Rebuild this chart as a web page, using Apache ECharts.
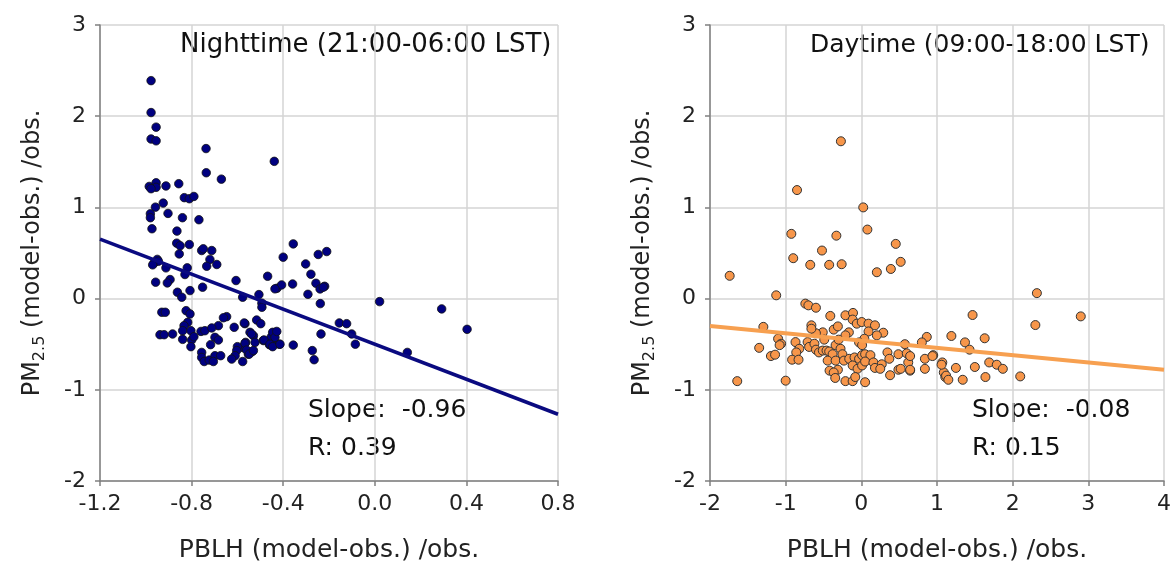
<!DOCTYPE html>
<html>
<head>
<meta charset="utf-8">
<script src="https://cdn.jsdelivr.net/npm/echarts@6/dist/echarts.min.js"></script>
<style>
html,body{margin:0;padding:0;background:#fff;}
#chart{width:1174px;height:569px;}
</style>
</head>
<body>
<div id="chart"></div>
<script>
// 夜间 / 日间 数据 (PBLH偏差, PM2.5偏差)
var nightPts = [
  [-0.977,2.39],[-0.977,2.04],[-0.955,1.88],[-0.977,1.75],[-0.955,1.73],[-0.737,1.645],[-0.439,1.505],
  [-0.736,1.38],[-0.67,1.31],[-0.985,1.23],[-0.955,1.27],[-0.955,1.22],[-0.977,1.205],[-0.912,1.235],
  [-0.856,1.26],[-0.832,1.107],[-0.81,1.095],[-0.79,1.12],[-0.924,1.047],[-0.958,1.003],[-0.98,0.93],
  [-0.98,0.887],[-0.903,0.934],[-0.84,0.887],[-0.768,0.865],[-0.973,0.766],[-0.864,0.74],[-0.865,0.608],
  [-0.85,0.58],[-0.81,0.593],[-0.756,0.527],[-0.749,0.546],[-0.712,0.527],[-0.854,0.49],[-0.356,0.6],
  [-0.4,0.454],[-0.247,0.484],[-0.21,0.516],[-0.95,0.43],[-0.72,0.43],[-0.302,0.38],[-0.279,0.267],
  [-0.468,0.245],[-0.427,0.113],[-0.407,0.15],[-0.359,0.16],[-0.257,0.168],[-0.239,0.106],[-0.219,0.135],
  [-0.225,0.125],[-0.292,0.047],[-0.238,-0.055],[0.021,-0.033],[0.292,-0.113],[0.403,-0.337],[0.142,-0.59],
  [-0.155,-0.267],[-0.123,-0.275],[-0.101,-0.388],[-0.085,-0.5],[-0.235,-0.388],[-0.356,-0.51],[-0.273,-0.57],
  [-0.265,-0.67],[-0.506,0.044],[-0.493,-0.05],[-0.493,-0.095],[-0.577,0.015],[-0.567,-0.275],[-0.516,-0.235],
  [-0.498,-0.275],[-0.545,-0.37],[-0.53,-0.407],[-0.433,-0.37],[-0.453,-0.425],[-0.564,-0.48],[-0.523,-0.48],
  [-0.487,-0.46],[-0.46,-0.506],[-0.443,-0.49],[-0.417,-0.5],[-0.577,-0.535],[-0.552,-0.61],[-0.535,-0.58],
  [-0.577,-0.69],[-0.734,0.355],[-0.69,0.374],[-0.964,0.39],[-0.945,0.41],[-0.97,0.37],[-0.912,0.337],
  [-0.819,0.337],[-0.829,0.264],[-0.894,0.209],[-0.906,0.172],[-0.957,0.18],[-0.606,0.198],[-0.752,0.125],
  [-0.862,0.07],[-0.843,0.015],[-0.807,0.088],[-0.436,0.107],[-0.93,-0.15],[-0.915,-0.15],[-0.824,-0.132],
  [-0.807,-0.168],[-0.647,-0.198],[-0.661,-0.21],[-0.817,-0.26],[-0.833,-0.297],[-0.57,-0.267],[-0.614,-0.315],
  [-0.683,-0.297],[-0.938,-0.396],[-0.92,-0.396],[-0.883,-0.388],[-0.839,-0.352],[-0.803,-0.352],[-0.839,-0.447],
  [-0.8,-0.454],[-0.79,-0.418],[-0.759,-0.36],[-0.742,-0.352],[-0.712,-0.322],[-0.698,-0.425],[-0.683,-0.454],
  [-0.803,-0.527],[-0.717,-0.505],[-0.756,-0.59],[-0.756,-0.645],[-0.745,-0.69],[-0.723,-0.674],[-0.698,-0.626],
  [-0.673,-0.626],[-0.705,-0.69],[-0.6,-0.527],[-0.603,-0.57],[-0.61,-0.626],[-0.625,-0.663],[-0.567,-0.49],
  [-0.56,-0.564],[-0.548,-0.608],[-0.53,-0.57],[-0.538,-0.388],[-0.484,-0.454],[-0.446,-0.37],[-0.436,-0.425],
  [-0.428,-0.36],[-0.458,-0.5],[-0.446,-0.527],[-0.414,-0.5]
];
var dayPts = [
  [-0.27,1.725],[-0.85,1.19],[0.025,1.0],[0.08,0.757],[-0.925,0.71],[-0.33,0.69],[0.455,0.6],[-0.52,0.527],
  [-0.9,0.443],[-0.675,0.37],[-0.425,0.37],[-0.26,0.377],[0.52,0.403],[0.205,0.289],[0.39,0.325],[-1.74,0.25],
  [-1.125,0.036],[-0.74,-0.055],[-0.7,-0.074],[-0.6,-0.1],[-0.41,-0.19],[-0.21,-0.183],[-0.11,-0.157],
  [-0.115,-0.23],[-0.06,-0.275],[0.005,-0.257],[0.095,-0.275],[0.18,-0.293],[0.29,-0.374],[0.205,-0.403],
  [0.095,-0.36],[-1.295,-0.31],[-0.66,-0.293],[-0.51,-0.37],[-0.365,-0.34],[-0.31,-0.305],[-0.165,-0.37],
  [-0.21,-0.403],[-1.1,-0.44],[-1.06,-0.495],[-1.08,-0.51],[-1.35,-0.54],[-1.195,-0.63],[-1.14,-0.615],
  [-1.64,-0.905],[-1.0,-0.9],[-0.87,-0.477],[-0.82,-0.55],[-0.86,-0.59],[-0.915,-0.67],[-0.83,-0.67],
  [-0.71,-0.477],[-0.69,-0.53],[-0.62,-0.495],[-0.6,-0.56],[-0.56,-0.59],[-0.51,-0.57],[-0.46,-0.57],
  [-0.425,-0.58],[-0.34,-0.51],[-0.275,-0.55],[-0.25,-0.61],[-0.38,-0.61],[-0.445,-0.68],[-0.34,-0.68],
  [-0.23,-0.68],[-0.42,-0.79],[-0.31,-0.78],[-0.365,-0.81],[-0.345,-0.87],[-0.21,-0.905],[-0.115,-0.905],
  [0.05,-0.917],[-0.16,-0.66],[-0.09,-0.645],[-0.03,-0.66],[0.01,-0.62],[0.05,-0.61],[0.12,-0.62],
  [-0.115,-0.733],[-0.05,-0.77],[0.01,-0.733],[-0.08,-0.86],[0.05,-0.69],[0.16,-0.7],[0.18,-0.76],[0.27,-0.72],
  [0.25,-0.77],[0.345,-0.59],[0.37,-0.66],[0.38,-0.84],[0.49,-0.61],[0.49,-0.78],[0.6,-0.6],[0.62,-0.7],
  [0.645,-0.79],[0.575,-0.5],[0.865,-0.42],[0.8,-0.48],[0.95,-0.62],[0.84,-0.66],[0.84,-0.77],[1.09,-0.81],
  [1.11,-0.86],[1.07,-0.7],[0.04,-0.44],[-0.03,-0.48],[0.01,-0.51],[-0.3,-0.45],[-0.6,-0.38],[-0.66,-0.33],
  [-0.49,-0.45],[2.32,0.06],[2.9,-0.195],[2.3,-0.29],[1.47,-0.18],[1.19,-0.41],[1.37,-0.48],[1.63,-0.435],
  [1.43,-0.56],[0.94,-0.63],[0.645,-0.63],[1.06,-0.725],[1.12,-0.845],[1.15,-0.89],[1.25,-0.76],[1.34,-0.89],
  [1.5,-0.75],[1.69,-0.7],[1.79,-0.725],[1.87,-0.77],[1.64,-0.86],[2.1,-0.853],[0.645,-0.78],[0.52,-0.77]
];
// 回归线参数 [斜率, 截距]
var nightFit = [-0.96, -0.50];
var dayFit = [-0.08, -0.46];
var nightRange = [-1.2, 0.8];
var dayRange = [-2, 4];
var yRange = [-2, 3];
var panelTitles = ['Nighttime (21:00-06:00 LST)', 'Daytime (09:00-18:00 LST)'];
var statTexts = [['Slope:  -0.96', 'R: 0.39'], ['Slope:  -0.08', 'R: 0.15']];

function fitLine(fit, range) {
  return [[range[0], fit[0]*range[0]+fit[1]], [range[1], fit[0]*range[1]+fit[1]]];
}

var FONT = 'DejaVu Sans';
var myChart = echarts.init(document.getElementById('chart'));

function xAxisCfg(idx, range, interval, fmt) {
  return {
    gridIndex: idx, type: 'value', min: range[0], max: range[1], interval: interval,
    name: 'PBLH (model-obs.) /obs.', nameLocation: 'middle', nameGap: 57,
    nameTextStyle: {fontFamily: FONT, fontSize: 25, color: '#222'},
    axisLine: {onZero: false, lineStyle: {color: '#808080', width: 1.5}},
    axisTick: {show: true, length: 5, lineStyle: {color: '#808080', width: 1.5}},
    axisLabel: {fontFamily: FONT, fontSize: 22, color: '#222', margin: 12, formatter: fmt},
    splitLine: {show: true, lineStyle: {color: '#d4d4d4', width: 1.5}}
  };
}
function yAxisCfg(idx) {
  return {
    gridIndex: idx, type: 'value', min: yRange[0], max: yRange[1], interval: 1,
    name: '{t|PM}{sub|2.5}{t| (model-obs.) /obs.}', nameLocation: 'middle', nameGap: 52, nameRotate: 90,
    nameTextStyle: {
      fontFamily: FONT, fontSize: 24, color: '#222',
      rich: {
        t: {fontFamily: FONT, fontSize: 24, color: '#222'},
        sub: {fontFamily: FONT, fontSize: 16, color: '#222', verticalAlign: 'top', padding: [15, 0, 0, 0]}
      }
    },
    axisLine: {onZero: false, lineStyle: {color: '#808080', width: 1.5}},
    axisTick: {show: true, length: 5, lineStyle: {color: '#808080', width: 1.5}},
    axisLabel: {fontFamily: FONT, fontSize: 22, color: '#222', margin: 14},
    splitLine: {show: true, lineStyle: {color: '#d4d4d4', width: 1.5}}
  };
}

var option = {
  backgroundColor: '#fff',
  animation: false,
  grid: [
    {left: 100, top: 25, width: 458, height: 456},
    {left: 710, top: 25, width: 456, height: 456}
  ],
  xAxis: [
    xAxisCfg(0, nightRange, 0.4, function (v) { return v.toFixed(1); }),
    xAxisCfg(1, dayRange, 1, function (v) { return String(v); })
  ],
  yAxis: [yAxisCfg(0), yAxisCfg(1)],
  graphic: [
    {type: 'text', left: 180, top: 32, style: {text: panelTitles[0], font: '26px "' + FONT + '"', fill: '#111'}},
    {type: 'text', left: 810, top: 33, style: {text: panelTitles[1], font: '25px "' + FONT + '"', fill: '#111'}},
    {type: 'text', left: 308, top: 398, style: {text: statTexts[0][0], font: '25px "' + FONT + '"', fill: '#111'}},
    {type: 'text', left: 308, top: 436, style: {text: statTexts[0][1], font: '25px "' + FONT + '"', fill: '#111'}},
    {type: 'text', left: 972, top: 398, style: {text: statTexts[1][0], font: '25px "' + FONT + '"', fill: '#111'}},
    {type: 'text', left: 972, top: 436, style: {text: statTexts[1][1], font: '25px "' + FONT + '"', fill: '#111'}}
  ],
  series: [
    {
      type: 'line', xAxisIndex: 0, yAxisIndex: 0, data: fitLine(nightFit, nightRange),
      symbol: 'none', lineStyle: {color: '#0a0a80', width: 3.5}, z: 3
    },
    {
      type: 'scatter', xAxisIndex: 0, yAxisIndex: 0, data: nightPts, symbolSize: 8.5,
      itemStyle: {color: '#000080', borderColor: '#111', borderWidth: 0.8, opacity: 1}, z: 2
    },
    {
      type: 'line', xAxisIndex: 1, yAxisIndex: 1, data: fitLine(dayFit, dayRange),
      symbol: 'none', lineStyle: {color: '#f7a050', width: 4}, z: 3
    },
    {
      type: 'scatter', xAxisIndex: 1, yAxisIndex: 1, data: dayPts, symbolSize: 9,
      itemStyle: {color: '#f7964a', borderColor: '#333', borderWidth: 1, opacity: 1}, z: 2
    }
  ]
};
myChart.setOption(option);
</script>
</body>
</html>
